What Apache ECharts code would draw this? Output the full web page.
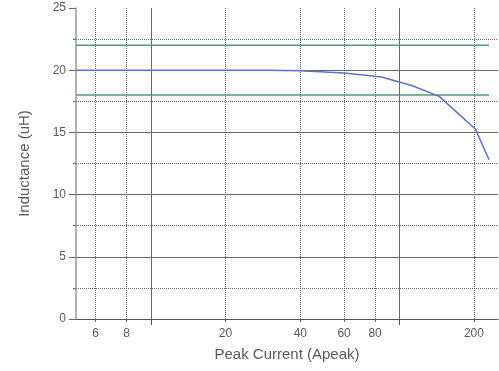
<!DOCTYPE html>
<html>
<head>
<meta charset="utf-8">
<script src="https://cdn.jsdelivr.net/npm/echarts@6/dist/echarts.min.js"></script>
<style>
  html, body { margin: 0; padding: 0; background: #fff; }
  #chart { width: 499px; height: 371px; }
</style>
</head>
<body>
<div id="chart"></div>
<script>
// Inductance roll-off versus peak current
const peakCurrent = [5, 30, 40, 60, 85, 113, 145, 203, 230];
const inductance = [20, 20, 19.95, 19.78, 19.45, 18.75, 17.9, 15.25, 12.8];

// Tolerance band (+/-10 %)
const limitCurrent = [5, 230];
const upperLimit = [22, 22];
const lowerLimit = [18, 18];

// Axis marks
const decadeTicks = [10, 100];
const currentTickLabels = [6, 8, 20, 40, 60, 80, 200];
const inductanceMin = 0, inductanceMax = 25, inductanceStep = 5;

const FONT = '"Liberation Sans", Arial, sans-serif';
const TEXT = '#5a5a5a';
const SOLID = '#666';
const DOT = '#666';

const pairs = (xs, ys) => xs.map((x, i) => [x, ys[i]]);
const logRange = { type: 'log', logBase: 10, min: 5, max: 250 };

const chart = echarts.init(document.getElementById('chart'), null, { renderer: 'canvas' });
chart.setOption({
  animation: false,
  backgroundColor: '#fff',
  grid: { left: 76, right: 1, top: 8, bottom: 52, containLabel: false },
  xAxis: [
    {
      ...logRange,
      position: 'bottom',
      name: 'Peak Current (Apeak)',
      nameLocation: 'middle',
      nameGap: 28,
      nameTextStyle: { color: TEXT, fontSize: 15, fontFamily: FONT },
      axisLine: { show: true, onZero: false, lineStyle: { color: '#555', width: 1 } },
      axisTick: { show: true, customValues: decadeTicks, length: 6, lineStyle: { color: '#555' } },
      axisLabel: { show: false },
      splitLine: { show: true, lineStyle: { color: SOLID, width: 1 } }
    },
    {
      ...logRange,
      position: 'bottom',
      axisLine: { show: false, onZero: false },
      axisTick: { show: true, customValues: currentTickLabels, length: 3, lineStyle: { color: SOLID } },
      axisLabel: {
        show: true,
        customValues: currentTickLabels,
        margin: 9,
        color: TEXT,
        fontSize: 12,
        fontFamily: FONT,
        formatter: v => String(Math.round(v))
      },
      splitLine: { show: true, lineStyle: { color: DOT, width: 1, type: [1, 1] } }
    }
  ],
  yAxis: {
    type: 'value',
    min: inductanceMin,
    max: inductanceMax,
    interval: inductanceStep,
    name: 'Inductance (uH)',
    nameLocation: 'middle',
    nameGap: 44,
    nameTextStyle: { color: TEXT, fontSize: 15, fontFamily: FONT },
    axisLine: { show: true, lineStyle: { color: '#999', width: 1.5 } },
    axisTick: { show: true, length: 7, lineStyle: { color: SOLID } },
    minorTick: { show: true, splitNumber: 2, length: 3, lineStyle: { color: SOLID } },
    axisLabel: { margin: 10, color: TEXT, fontSize: 12, fontFamily: FONT },
    splitLine: { show: true, showMaxLine: false, lineStyle: { color: SOLID, width: 1 } },
    minorSplitLine: { show: true, lineStyle: { color: DOT, width: 1, type: [1, 1] } }
  },
  series: [
    {
      name: 'Upper limit',
      type: 'line',
      xAxisIndex: 0,
      data: pairs(limitCurrent, upperLimit),
      symbol: 'none',
      lineStyle: { color: '#4f9e78', width: 1.5 },
      z: 3
    },
    {
      name: 'Lower limit',
      type: 'line',
      xAxisIndex: 0,
      data: pairs(limitCurrent, lowerLimit),
      symbol: 'none',
      lineStyle: { color: '#4f9e78', width: 1.5 },
      z: 3
    },
    {
      name: 'Inductance',
      type: 'line',
      xAxisIndex: 0,
      data: pairs(peakCurrent, inductance),
      symbol: 'none',
      lineStyle: { color: '#5a74c4', width: 1.5 },
      z: 4
    }
  ]
});
</script>
</body>
</html>
